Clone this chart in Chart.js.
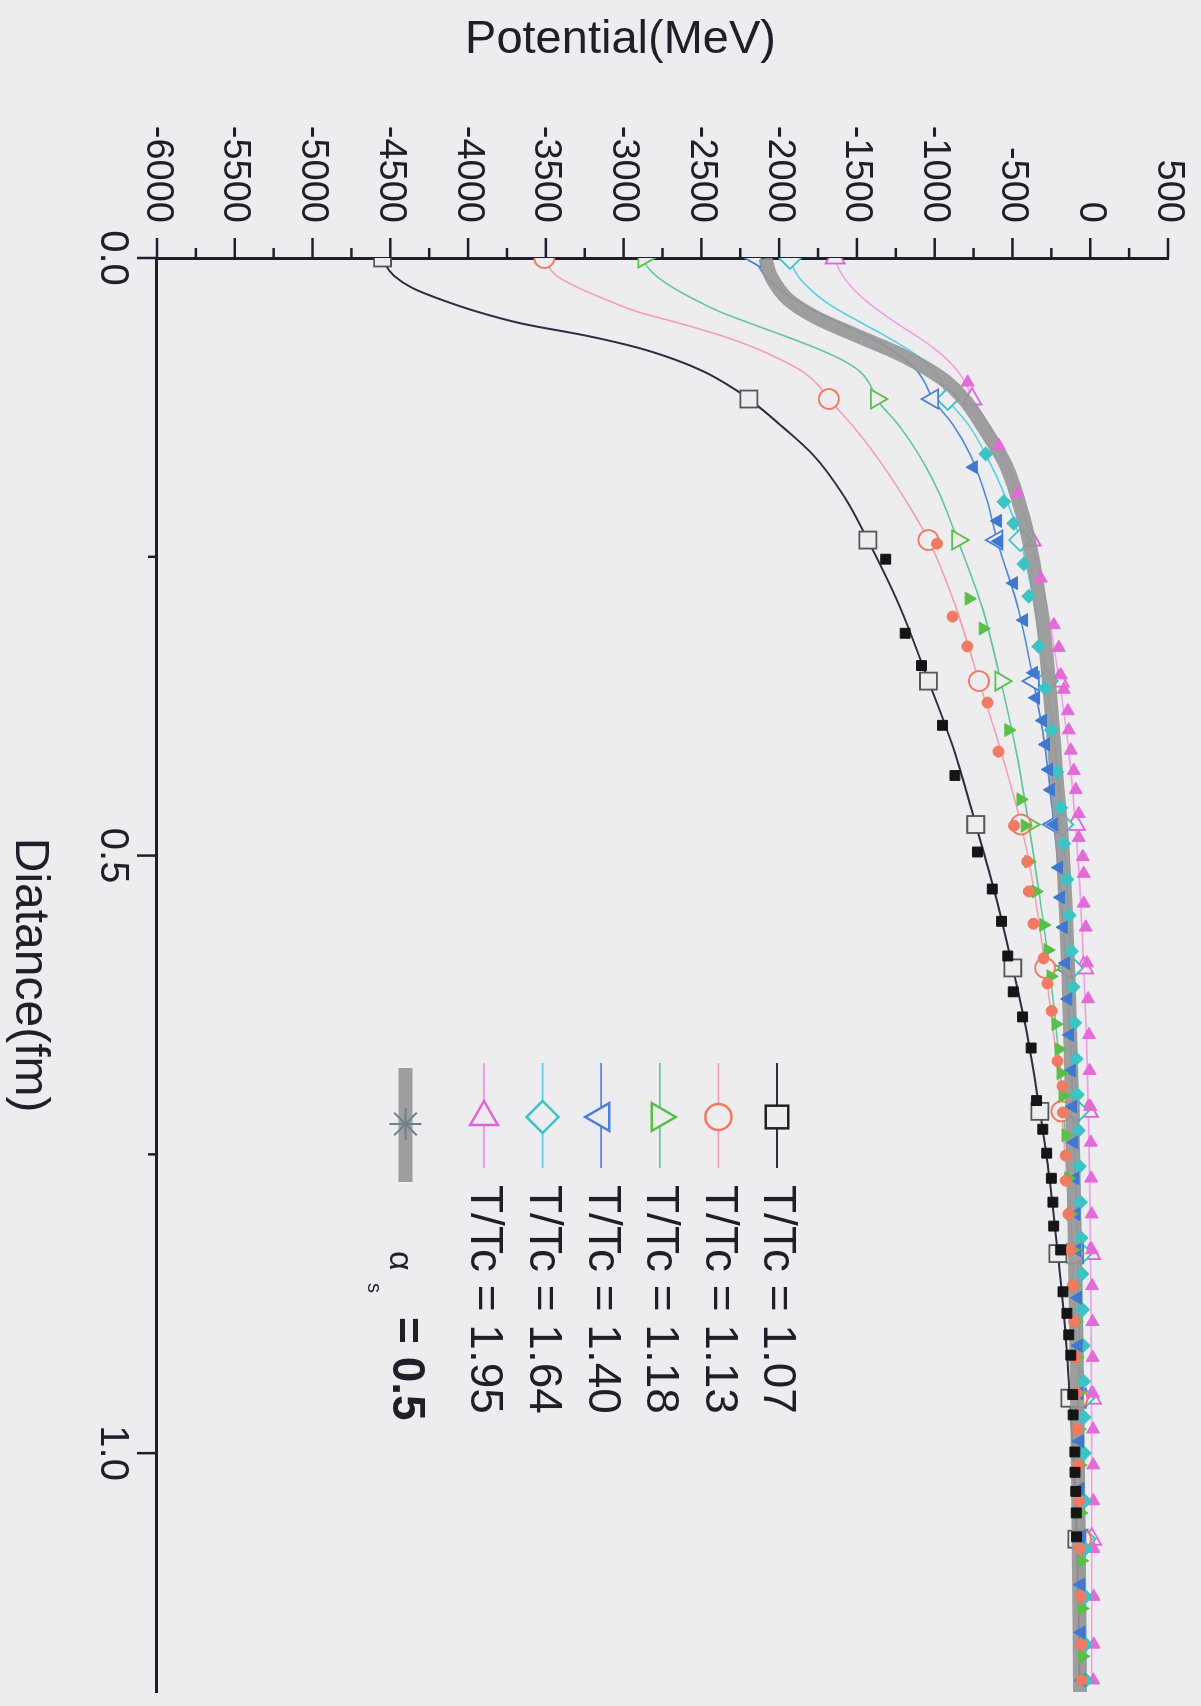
<!DOCTYPE html>
<html>
<head>
<meta charset="utf-8">
<title>Potential vs distance</title>
<script src="https://cdn.jsdelivr.net/npm/chart.js@4.4.1/dist/chart.umd.min.js"></script>
<style>
  html, body { margin: 0; padding: 0; background: #edecef; }
  body { width: 1201px; height: 1706px; overflow: hidden; position: relative; }
  /* the printed figure sits on the page turned a quarter clockwise */
  #turn {
    position: absolute; left: 0; top: 0; width: 1706px; height: 1201px;
    transform-origin: 0 0; transform: translate(1201px, 0) rotate(90deg);
  }
</style>
</head>
<body>
<div id="turn"><canvas id="chart" width="1706" height="1201"></canvas></div>
<script>
// ---- data ----

// distances (fm) where the fitted curves are sampled
const fitDist = [0, 0.005, 0.015, 0.025, 0.035, 0.045, 0.055, 0.065, 0.075, 0.085, 0.095, 0.105, 0.118,
  0.14, 0.165, 0.2, 0.236, 0.29, 0.354, 0.41, 0.474, 0.53, 0.594, 0.65, 0.714, 0.77, 0.833, 0.89,
  0.954, 1.01, 1.072, 1.13, 1.19];
// distances that carry an open symbol on the fitted curves
const openMarkDist = [0, 0.118, 0.236, 0.354, 0.474, 0.594, 0.714, 0.833, 0.954, 1.072];

const fitV107 = [-4550, -4535, -4475, -4360, -4170, -3940, -3650, -3240, -2910, -2670, -2485, -2345, -2195,
  -1990, -1780, -1580, -1430, -1230, -1040, -880, -736, -615, -498, -405, -324, -262, -208, -165,
  -131, -105, -86, -75, -68];
const fitV113 = [-3510, -3495, -3430, -3290, -3110, -2910, -2630, -2370, -2160, -1990, -1850, -1760, -1680,
  -1530, -1380, -1200, -1040, -870, -715, -580, -445, -360, -290, -235, -185, -150, -120, -100,
  -82, -70, -60, -52, -46];
const fitV118 = [-2870, -2860, -2790, -2680, -2540, -2380, -2180, -1970, -1770, -1600, -1480, -1420, -1375,
  -1230, -1100, -960, -852, -700, -575, -480, -395, -330, -262, -215, -172, -140, -115, -97,
  -80, -68, -58, -50, -44];
const fitV140 = [-2150, -2140, -2090, -2010, -1900, -1760, -1600, -1440, -1300, -1190, -1110, -1060, -1013,
  -880, -770, -670, -600, -470, -365, -290, -235, -190, -155, -130, -110, -95, -82, -72,
  -64, -58, -52, -48, -44];
const fitV164 = [-1930, -1920, -1880, -1810, -1720, -1600, -1460, -1320, -1190, -1080, -1000, -950, -916,
  -780, -670, -545, -450, -360, -280, -225, -180, -145, -118, -98, -82, -70, -60, -52,
  -45, -40, -36, -32, -29];
const fitV195 = [-1640, -1630, -1590, -1530, -1450, -1350, -1240, -1120, -1010, -920, -850, -800, -760,
  -650, -560, -460, -380, -280, -200, -140, -95, -65, -42, -25, -12, -4, 2, 6,
  8, 10, 10, 10, 10];

// lattice points (filled symbols)
const latDist107 = [0.252, 0.314, 0.341, 0.391, 0.433, 0.497, 0.528, 0.555, 0.584, 0.614, 0.635, 0.661, 0.705,
  0.729, 0.749, 0.770, 0.790, 0.810, 0.830, 0.865, 0.883, 0.901, 0.918, 0.951, 0.968, 0.999, 1.016, 1.032,
  1.05, 1.07];
const latV107 = [-1315, -1190, -1085, -950, -870, -725, -630, -570, -530, -495, -435, -380, -345,
  -305, -280, -250, -240, -235, -190, -175, -150, -138, -125, -112, -110, -99, -98, -93,
  -90, -88];
const latDist113 = [0.239, 0.300, 0.325, 0.372, 0.413, 0.475, 0.505, 0.530, 0.557, 0.586, 0.607, 0.630, 0.672,
  0.693, 0.715, 0.751, 0.772, 0.80, 0.83, 0.86, 0.89, 0.92, 0.95, 0.98, 1.01, 1.04, 1.08, 1.12, 1.16, 1.19];
const latV113 = [-985, -885, -790, -660, -590, -490, -405, -395, -365, -300, -275, -248, -210,
  -178, -176, -158, -157, -140, -126, -112, -103, -96, -88, -82, -77, -72, -67, -62, -58, -55];
const latDist118 = [0.285, 0.310, 0.395, 0.453, 0.475, 0.505, 0.530, 0.558, 0.579, 0.601, 0.641, 0.662, 0.682,
  0.701, 0.734, 0.77, 0.80, 0.83, 0.86, 0.89, 0.92, 0.95, 0.98, 1.01, 1.05, 1.09, 1.13, 1.17];
const latV118 = [-780, -690, -525, -447, -420, -395, -350, -300, -273, -254, -222, -202, -189,
  -176, -157, -140, -126, -113, -102, -93, -86, -79, -73, -68, -63, -58, -54, -50];
const latDist140 = [0.175, 0.220, 0.237, 0.272, 0.303, 0.347, 0.368, 0.387, 0.407, 0.428, 0.445, 0.474, 0.510,
  0.535, 0.56, 0.59, 0.62, 0.65, 0.68, 0.71, 0.74, 0.77, 0.80, 0.83, 0.87, 0.91, 0.95, 0.99, 1.03,
  1.07, 1.11, 1.15, 1.19];
const latV140 = [-750, -595, -588, -492, -427, -363, -350, -305, -286, -267, -254, -234, -202,
  -189, -172, -157, -143, -131, -121, -112, -104, -97, -91, -86, -81, -76, -72, -68, -65,
  -62, -60, -58, -55];
const latDist164 = [0.164, 0.204, 0.222, 0.256, 0.283, 0.325, 0.36, 0.395, 0.43, 0.46, 0.49, 0.52, 0.55,
  0.58, 0.61, 0.64, 0.67, 0.70, 0.73, 0.76, 0.79, 0.82, 0.85, 0.88, 0.91, 0.94, 0.97, 1.00, 1.04,
  1.08, 1.12, 1.16, 1.19];
const latV164 = [-672, -556, -492, -427, -395, -331, -290, -250, -215, -190, -170, -150, -135,
  -121, -110, -100, -91, -83, -76, -69, -63, -58, -53, -49, -45, -42, -40, -38, -35,
  -32, -30, -28, -26];
const latDist195 = [0.104, 0.157, 0.197, 0.268, 0.307, 0.326, 0.349, 0.361, 0.379, 0.395, 0.412, 0.429, 0.445,
  0.465, 0.485, 0.501, 0.515, 0.540, 0.560, 0.59, 0.62, 0.65, 0.68, 0.71, 0.74, 0.77, 0.80, 0.83,
  0.86, 0.89, 0.92, 0.95, 0.98, 1.01, 1.04, 1.08, 1.12, 1.16, 1.19];
const latV195 = [-788, -588, -466, -318, -234, -202, -189, -170, -144, -138, -125, -106, -93,
  -74, -74, -48, -42, -42, -29, -20, -14, -8, -4, 0, 4, 6, 9, 11,
  12, 14, 15, 17, 18, 19, 20, 21, 22, 22, 20];

// perturbative curve, alpha_s = 0.5
const alphaDist = [0, 0.016, 0.035, 0.05, 0.065, 0.082, 0.102, 0.12, 0.141, 0.174, 0.216, 0.257, 0.312,
  0.362, 0.42, 0.5, 0.6, 0.7, 0.8, 0.9, 1.0, 1.1, 1.2];
const alphaV = [-2090, -2050, -1940, -1760, -1500, -1200, -940, -800, -690, -540, -433, -363, -298,
  -260, -225, -175, -140, -118, -102, -90, -80, -72, -65];

const tempLabels = ['T/Tc = 1.07', 'T/Tc = 1.13', 'T/Tc = 1.18', 'T/Tc = 1.40', 'T/Tc = 1.64', 'T/Tc = 1.95'];

// x axis: distance, y axis: potential
const distRange = [0, 1.2];
const potRange = [-6000, 500];

// ---- styling ----
const paper = '#edecef';
const ink = '#1f1f29';
const fontName = '"Liberation Sans", Arial, sans-serif';
const clear = 'rgba(0,0,0,0)';

// one entry per temperature: line colour, symbol colour, symbol, rotation
const looks = [
  { line: '#2d2d44', mark: '#555555', fill: '#151515', style: 'rect', rot: 0, open: 12, dot: 7 },
  { line: '#f3a0b4', mark: '#f07a62', fill: '#f07a62', style: 'circle', rot: 0, open: 10, dot: 5.5 },
  { line: '#62c6a0', mark: '#58c046', fill: '#58c046', style: 'triangle', rot: 0, open: 11, dot: 7.5 },
  { line: '#4f8ad8', mark: '#4a80d6', fill: '#3f78d0', style: 'triangle', rot: 180, open: 11, dot: 7.5 },
  { line: '#58d0e0', mark: '#3cc4c4', fill: '#3cc4c4', style: 'rectRot', rot: 0, open: 11, dot: 7 },
  { line: '#f0a0e8', mark: '#e064d8', fill: '#e46ad8', style: 'triangle', rot: 270, open: 11, dot: 7.5 }
];

const fitSeries = [fitV107, fitV113, fitV118, fitV140, fitV164, fitV195];
const latSeries = [[latDist107, latV107], [latDist113, latV113], [latDist118, latV118],
  [latDist140, latV140], [latDist164, latV164], [latDist195, latV195]];

function points(xs, ys) {
  return xs.map((x, i) => ({ x: x, y: ys[i] }));
}

const datasets = [];

// fitted curves with open symbols, drawn at the bottom
fitSeries.forEach((vals, i) => {
  const lk = looks[i];
  datasets.push({
    label: tempLabels[i],
    data: points(fitDist, vals),
    showLine: true,
    cubicInterpolationMode: 'monotone',
    borderColor: lk.line,
    borderWidth: i === 0 ? 2 : 1.6,
    pointStyle: lk.style,
    rotation: lk.rot,
    pointRadius: fitDist.map(d => openMarkDist.includes(d) ? lk.open : 0),
    pointBackgroundColor: paper,
    pointBorderColor: lk.mark,
    pointBorderWidth: 1.8,
    order: 10 + i
  });
});

// thick grey alpha_s curve
datasets.push({
  label: 'alpha_s = 0.5',
  data: points(alphaDist, alphaV),
  showLine: true,
  cubicInterpolationMode: 'monotone',
  borderColor: 'rgba(150,150,150,0.9)',
  borderWidth: 14,
  pointRadius: 0,
  order: 5
});

// lattice points on top, black ones last
latSeries.forEach(([xs, ys], i) => {
  const lk = looks[i];
  datasets.push({
    label: tempLabels[i] + ' lattice',
    data: points(xs, ys),
    showLine: false,
    pointStyle: lk.style,
    rotation: lk.rot,
    pointRadius: lk.dot,
    pointBackgroundColor: lk.fill,
    pointBorderColor: lk.fill,
    pointBorderWidth: 1,
    order: i === 0 ? 0 : 1
  });
});

// ---- plugins ----

// scanned paper background
const paperPlugin = {
  id: 'paper',
  beforeDraw(chart) {
    const { ctx, width, height } = chart;
    ctx.save();
    ctx.fillStyle = paper;
    ctx.fillRect(0, 0, width, height);
    ctx.restore();
  }
};

// major and minor tick marks pointing outward, plus the potential axis title
const axisPlugin = {
  id: 'axisTicks',
  afterDraw(chart) {
    const { ctx, chartArea } = chart;
    const xs = chart.scales.x;
    const ys = chart.scales.y;
    ctx.save();
    ctx.strokeStyle = ink;
    ctx.lineWidth = 2.5;

    xs.ticks.forEach(t => {
      const q = t.value / 0.25;
      if (Math.abs(q - Math.round(q)) > 1e-6) return;
      const major = Math.abs(t.value / 0.5 - Math.round(t.value / 0.5)) < 1e-6;
      const px = xs.getPixelForValue(t.value);
      ctx.beginPath();
      ctx.moveTo(px, xs.top);
      ctx.lineTo(px, xs.top + (major ? 20 : 9));
      ctx.stroke();
    });

    ys.ticks.forEach(t => {
      if (t.value % 250 !== 0) return;
      const major = t.value % 500 === 0;
      const py = ys.getPixelForValue(t.value);
      ctx.beginPath();
      ctx.moveTo(ys.right, py);
      ctx.lineTo(ys.right - (major ? 20 : 10), py);
      ctx.stroke();
    });

    // title sits a little below the middle of the axis in the original
    ctx.translate(40, (chartArea.top + chartArea.bottom) / 2 + 42);
    ctx.rotate(-Math.PI / 2);
    ctx.fillStyle = ink;
    ctx.font = '47px ' + fontName;
    ctx.textAlign = 'center';
    ctx.textBaseline = 'middle';
    ctx.fillText('Potential(MeV)', 0, 0);
    ctx.restore();
  }
};

// legend sitting inside the plot
const legendPlugin = {
  id: 'insetLegend',
  afterDatasetsDraw(chart) {
    const { ctx, chartArea } = chart;
    const lineStart = chartArea.left + 805;
    const lineEnd = chartArea.left + 910;
    const markX = chartArea.left + 859;
    const textX = chartArea.left + 927;
    const rowTop = chartArea.top + 391;
    const rowStep = 58.6;

    ctx.save();
    ctx.textBaseline = 'middle';
    ctx.textAlign = 'left';

    looks.forEach((lk, i) => {
      const y = rowTop + i * rowStep;
      ctx.strokeStyle = lk.line;
      ctx.lineWidth = 1.8;
      ctx.beginPath();
      ctx.moveTo(lineStart, y);
      ctx.lineTo(lineEnd, y);
      ctx.stroke();

      ctx.fillStyle = paper;
      ctx.strokeStyle = i === 0 ? '#222222' : lk.mark;
      ctx.lineWidth = 2.5;
      Chart.helpers.drawPoint(ctx, {
        pointStyle: lk.style, rotation: lk.rot,
        radius: lk.style === 'circle' ? 13 : 16, borderWidth: 2.5
      }, markX, y);

      ctx.fillStyle = ink;
      ctx.font = '46px ' + fontName;
      ctx.fillText(tempLabels[i], textX, y);
    });

    // alpha_s entry
    const ya = rowTop + 6 * rowStep + 20;
    ctx.strokeStyle = 'rgba(150,150,150,0.9)';
    ctx.lineWidth = 14;
    ctx.beginPath();
    ctx.moveTo(lineStart + 5, ya);
    ctx.lineTo(lineEnd + 14, ya);
    ctx.stroke();
    ctx.strokeStyle = '#6f8088';
    ctx.lineWidth = 2;
    Chart.helpers.drawPoint(ctx, { pointStyle: 'star', radius: 16, borderWidth: 2 }, markX + 7, ya);

    ctx.fillStyle = ink;
    ctx.font = '34px ' + fontName;
    ctx.fillText('\u03B1', textX + 66, ya + 6);
    ctx.font = '20px ' + fontName;
    ctx.fillText('s', textX + 98, ya + 32);
    ctx.font = 'bold 46px ' + fontName;
    ctx.fillText('= 0.5', textX + 132, ya);
    ctx.restore();
  }
};

// ---- chart ----
const chart = new Chart(document.getElementById('chart'), {
  type: 'scatter',
  data: { datasets: datasets },
  plugins: [paperPlugin, axisPlugin, legendPlugin],
  options: {
    responsive: false,
    animation: false,
    layout: { padding: { top: 33, right: 6, bottom: 0, left: 0 } },
    plugins: {
      legend: { display: false },
      tooltip: { enabled: false }
    },
    scales: {
      x: {
        type: 'linear',
        min: distRange[0],
        max: distRange[1],
        // fixed box, and no extra room asked for the end labels
        afterFit: (scale) => {
          scale.height = 157;
          scale.paddingLeft = 0;
          scale.paddingRight = 0;
        },
        border: { display: true, color: ink, width: 3 },
        // invisible tick marks only reserve the room; the plugin draws the real ones
        grid: { drawOnChartArea: false, drawTicks: true, tickLength: 21, tickColor: clear },
        ticks: {
          stepSize: 0.25,
          autoSkip: false,
          maxRotation: 0,
          padding: 0,
          color: ink,
          font: { family: fontName, size: 40 },
          callback: (v) => Math.abs(v * 2 - Math.round(v * 2)) < 1e-6 ? Number(v).toFixed(1) : ''
        },
        title: {
          display: true,
          text: 'Diatance(fm)',
          color: ink,
          font: { family: fontName, size: 48 },
          padding: { top: 0, bottom: 0 }
        }
      },
      y: {
        type: 'linear',
        min: potRange[0],
        max: potRange[1],
        afterFit: (scale) => {
          scale.width = 258;
          scale.paddingTop = 0;
          scale.paddingBottom = 0;
        },
        border: { display: true, color: ink, width: 3 },
        grid: { drawOnChartArea: false, drawTicks: true, tickLength: 35, tickColor: clear },
        ticks: {
          stepSize: 250,
          autoSkip: false,
          padding: 0,
          color: ink,
          font: { family: fontName, size: 38 },
          callback: (v) => v % 500 === 0 ? String(v) : ''
        },
        title: { display: false }
      }
    }
  }
});
</script>
</body>
</html>
